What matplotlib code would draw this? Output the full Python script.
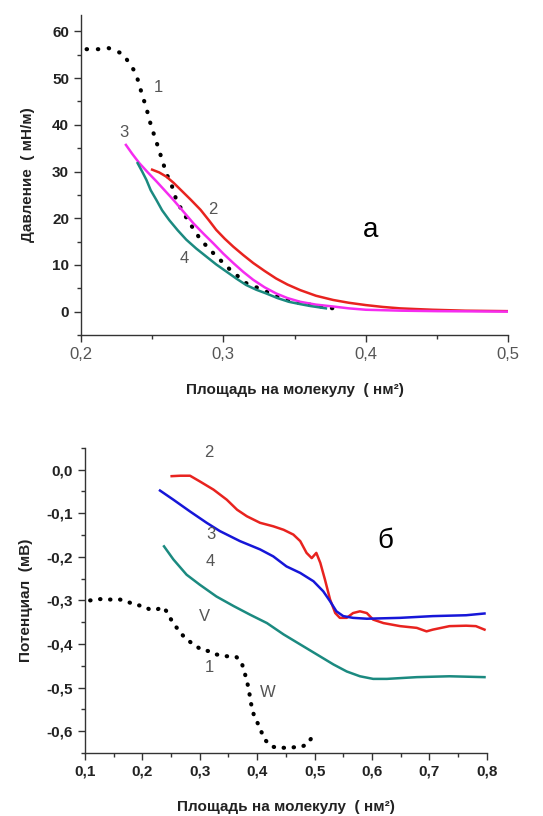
import matplotlib
matplotlib.use("Agg")
import matplotlib.pyplot as plt
from matplotlib.ticker import FuncFormatter, MultipleLocator

plt.rcParams['font.family'] = ['Liberation Sans', 'DejaVu Sans']

# ---- panel a: pressure isotherms ----
a1_x = [0.204, 0.213, 0.218, 0.224, 0.230, 0.233, 0.237, 0.240, 0.243, 0.246, 0.248,
        0.251, 0.254, 0.257, 0.260, 0.264, 0.267, 0.272, 0.278, 0.284, 0.293, 0.305,
        0.316, 0.328, 0.340, 0.354, 0.377]
a1_y = [56.2, 56.2, 56.6, 55.9, 55.1, 53.6, 51.8, 49.6, 46.4, 43.6, 41.1,
        38.2, 35.4, 32.5, 29.6, 26.8, 23.9, 21.1, 18.2, 15.4, 12.5, 8.9,
        6.1, 4.6, 2.9, 1.8, 0.7]
a2_x = [0.250, 0.255, 0.260, 0.265, 0.270, 0.277, 0.284, 0.290, 0.295, 0.301, 0.307,
        0.314, 0.321, 0.329, 0.337, 0.345, 0.354, 0.365, 0.377, 0.388, 0.400,
        0.412, 0.424, 0.435, 0.447, 0.470, 0.500]
a2_y = [30.4, 29.8, 28.9, 27.6, 26.1, 24.0, 21.8, 19.5, 17.5, 15.6, 13.9,
        12.1, 10.4, 8.7, 7.1, 5.8, 4.6, 3.4, 2.5, 1.9, 1.4,
        1.0, 0.7, 0.55, 0.4, 0.2, 0.1]
a3_x = [0.2316, 0.236, 0.241, 0.247, 0.253, 0.259, 0.265, 0.272, 0.279, 0.286, 0.293,
        0.300, 0.307, 0.314, 0.321, 0.329, 0.337, 0.345, 0.354, 0.365, 0.377,
        0.388, 0.400, 0.425, 0.450, 0.500]
a3_y = [35.7, 33.8, 31.8, 29.8, 27.9, 25.9, 23.9, 21.4, 18.9, 16.7, 14.6,
        12.4, 10.4, 8.5, 6.8, 5.2, 3.9, 2.9, 2.1, 1.5, 1.1,
        0.7, 0.4, 0.2, 0.1, 0.0]
a4_x = [0.2398, 0.243, 0.246, 0.249, 0.253, 0.257, 0.262, 0.268, 0.274, 0.281, 0.288,
        0.295, 0.302, 0.309, 0.316, 0.323, 0.330, 0.338, 0.346, 0.354, 0.361, 0.372]
a4_y = [31.8, 30.0, 28.2, 26.0, 23.9, 21.7, 19.6, 17.4, 15.4, 13.5, 11.8,
        10.1, 8.6, 7.1, 5.7, 4.7, 3.9, 2.9, 2.1, 1.6, 1.2, 0.7]

# ---- panel б: surface potential ----
b1_x = [0.109, 0.126, 0.144, 0.161, 0.176, 0.187, 0.202, 0.213, 0.225, 0.236, 0.242,
        0.248, 0.260, 0.274, 0.289, 0.303, 0.318, 0.329, 0.347, 0.364, 0.373, 0.379,
        0.385, 0.389, 0.394, 0.402, 0.413, 0.425, 0.436, 0.451, 0.463, 0.478, 0.486, 0.495]
b1_y = [-0.300, -0.297, -0.298, -0.298, -0.304, -0.310, -0.313, -0.321, -0.321, -0.315,
        -0.325, -0.340, -0.363, -0.386, -0.401, -0.413, -0.417, -0.424, -0.428, -0.430,
        -0.443, -0.470, -0.501, -0.535, -0.562, -0.585, -0.619, -0.635, -0.638, -0.638,
        -0.637, -0.635, -0.631, -0.615]
b2_x = [0.251, 0.266, 0.283, 0.300, 0.324, 0.347, 0.365, 0.382, 0.405, 0.428, 0.446,
        0.463, 0.475, 0.486, 0.495, 0.503, 0.510, 0.518, 0.527, 0.536, 0.544, 0.556,
        0.567, 0.579, 0.591, 0.602, 0.620, 0.649, 0.678, 0.695, 0.706, 0.735, 0.764,
        0.781, 0.796]
b2_y = [-0.015, -0.014, -0.014, -0.027, -0.046, -0.069, -0.092, -0.107, -0.122, -0.130,
        -0.138, -0.149, -0.164, -0.191, -0.203, -0.191, -0.214, -0.252, -0.298, -0.329,
        -0.340, -0.340, -0.329, -0.325, -0.329, -0.344, -0.352, -0.359, -0.363, -0.371,
        -0.367, -0.359, -0.358, -0.359, -0.367]
b3_x = [0.2307, 0.254, 0.283, 0.312, 0.335, 0.370, 0.405, 0.428, 0.451, 0.475, 0.498,
        0.515, 0.527, 0.538, 0.550, 0.567, 0.591, 0.649, 0.706, 0.764, 0.796]
b3_y = [-0.048, -0.069, -0.096, -0.122, -0.141, -0.164, -0.183, -0.199, -0.222, -0.237,
        -0.256, -0.279, -0.302, -0.325, -0.336, -0.340, -0.342, -0.340, -0.336, -0.334, -0.330]
b4_x = [0.2377, 0.254, 0.277, 0.300, 0.329, 0.359, 0.388, 0.417, 0.446, 0.475, 0.504,
        0.533, 0.556, 0.579, 0.602, 0.626, 0.678, 0.735, 0.796]
b4_y = [-0.176, -0.206, -0.241, -0.264, -0.291, -0.313, -0.333, -0.352, -0.378, -0.401,
        -0.424, -0.447, -0.463, -0.474, -0.480, -0.480, -0.476, -0.474, -0.476]

RED = '#e8231f'
MAG = '#f52cf0'
TEAL = '#1b8a80'
BLUE = '#1616d8'
GREY = '#555555'
DARK = '#222222'


def comma(fmt):
    return FuncFormatter(lambda v, p: (fmt % v).replace('.', ','))


def style(ax):
    for s in ('top', 'right'):
        ax.spines[s].set_visible(False)
    for s in ('left', 'bottom'):
        ax.spines[s].set_color('#333333')
        ax.spines[s].set_linewidth(1.0)
    ax.tick_params(which='major', direction='out', length=5, width=1, color='#333333')
    ax.tick_params(which='minor', direction='out', length=3, width=1, color='#333333')


fig = plt.figure(figsize=(5.43, 8.16), dpi=100)

# panel a
ax = fig.add_axes([0.149, 0.5895, 0.787, 0.392])
style(ax)
ax.plot(a1_x, a1_y, color='black', lw=3, linestyle=(0, (0.1, 2.6)), dash_capstyle='round')
ax.plot(a2_x, a2_y, color=RED, lw=1.8)
ax.plot(a3_x, a3_y, color=MAG, lw=1.8)
ax.plot(a4_x, a4_y, color=TEAL, lw=1.8)
ax.set_xlim(0.2, 0.5)
ax.set_ylim(-5, 63.5)
ax.xaxis.set_major_locator(MultipleLocator(0.1))
ax.xaxis.set_minor_locator(MultipleLocator(0.05))
ax.yaxis.set_major_locator(MultipleLocator(10))
ax.yaxis.set_minor_locator(MultipleLocator(5))
ax.xaxis.set_major_formatter(comma('%.1f'))
ax.yaxis.set_major_formatter(comma('%d'))
for t in ax.get_xticklabels():
    t.set_fontsize(12)
    t.set_color(GREY)
for t in ax.get_yticklabels():
    t.set_fontsize(11)
    t.set_fontweight('bold')
    t.set_color(DARK)
ax.set_xlabel('Площадь на молекулу  ( нм²)', fontsize=11, fontweight='bold',
              color=DARK, labelpad=15)
ax.set_ylabel('Давление  ( мН/м)', fontsize=11, fontweight='bold', color=DARK, labelpad=12)
for txt, x, y in [('1', 0.2543, 47.9), ('2', 0.2924, 21.9), ('3', 0.2304, 38.4), ('4', 0.2726, 11.4)]:
    ax.text(x, y, txt, fontsize=12, color=GREY, ha='center', va='center')
ax.text(0.403, 17.5, 'а', fontsize=20, color='black', ha='center', va='center')

# panel б
bx = fig.add_axes([0.1565, 0.0772, 0.740, 0.374])
style(bx)
bx.plot(b1_x, b1_y, color='black', lw=3, linestyle=(0, (0.1, 2.3)), dash_capstyle='round')
bx.plot(b2_x, b2_y, color=RED, lw=1.8)
bx.plot(b3_x, b3_y, color=BLUE, lw=1.8)
bx.plot(b4_x, b4_y, color=TEAL, lw=1.8)
bx.set_xlim(0.1, 0.8)
bx.set_ylim(-0.65, 0.05)
bx.xaxis.set_major_locator(MultipleLocator(0.1))
bx.xaxis.set_minor_locator(MultipleLocator(0.05))
bx.yaxis.set_major_locator(MultipleLocator(0.1))
bx.yaxis.set_minor_locator(MultipleLocator(0.05))
bx.xaxis.set_major_formatter(comma('%.1f'))
bx.yaxis.set_major_formatter(comma('%.1f'))
for t in bx.get_xticklabels() + bx.get_yticklabels():
    t.set_fontsize(11)
    t.set_fontweight('bold')
    t.set_color(DARK)
bx.set_xlabel('Площадь на молекулу  ( нм²)', fontsize=11, fontweight='bold',
              color=DARK, labelpad=15)
bx.set_ylabel('Потенциал  (мВ)', fontsize=11, fontweight='bold', color=DARK, labelpad=10)
for txt, x, y in [('2', 0.316, 0.040), ('3', 0.3196, -0.149), ('4', 0.318, -0.210),
                  ('V', 0.309, -0.338), ('1', 0.3166, -0.455), ('W', 0.4193, -0.511)]:
    bx.text(x, y, txt, fontsize=12, color=GREY, ha='center', va='center')
bx.text(0.623, -0.164, 'б', fontsize=20, color='black', ha='center', va='center')

fig.savefig('out.png', dpi=100)
